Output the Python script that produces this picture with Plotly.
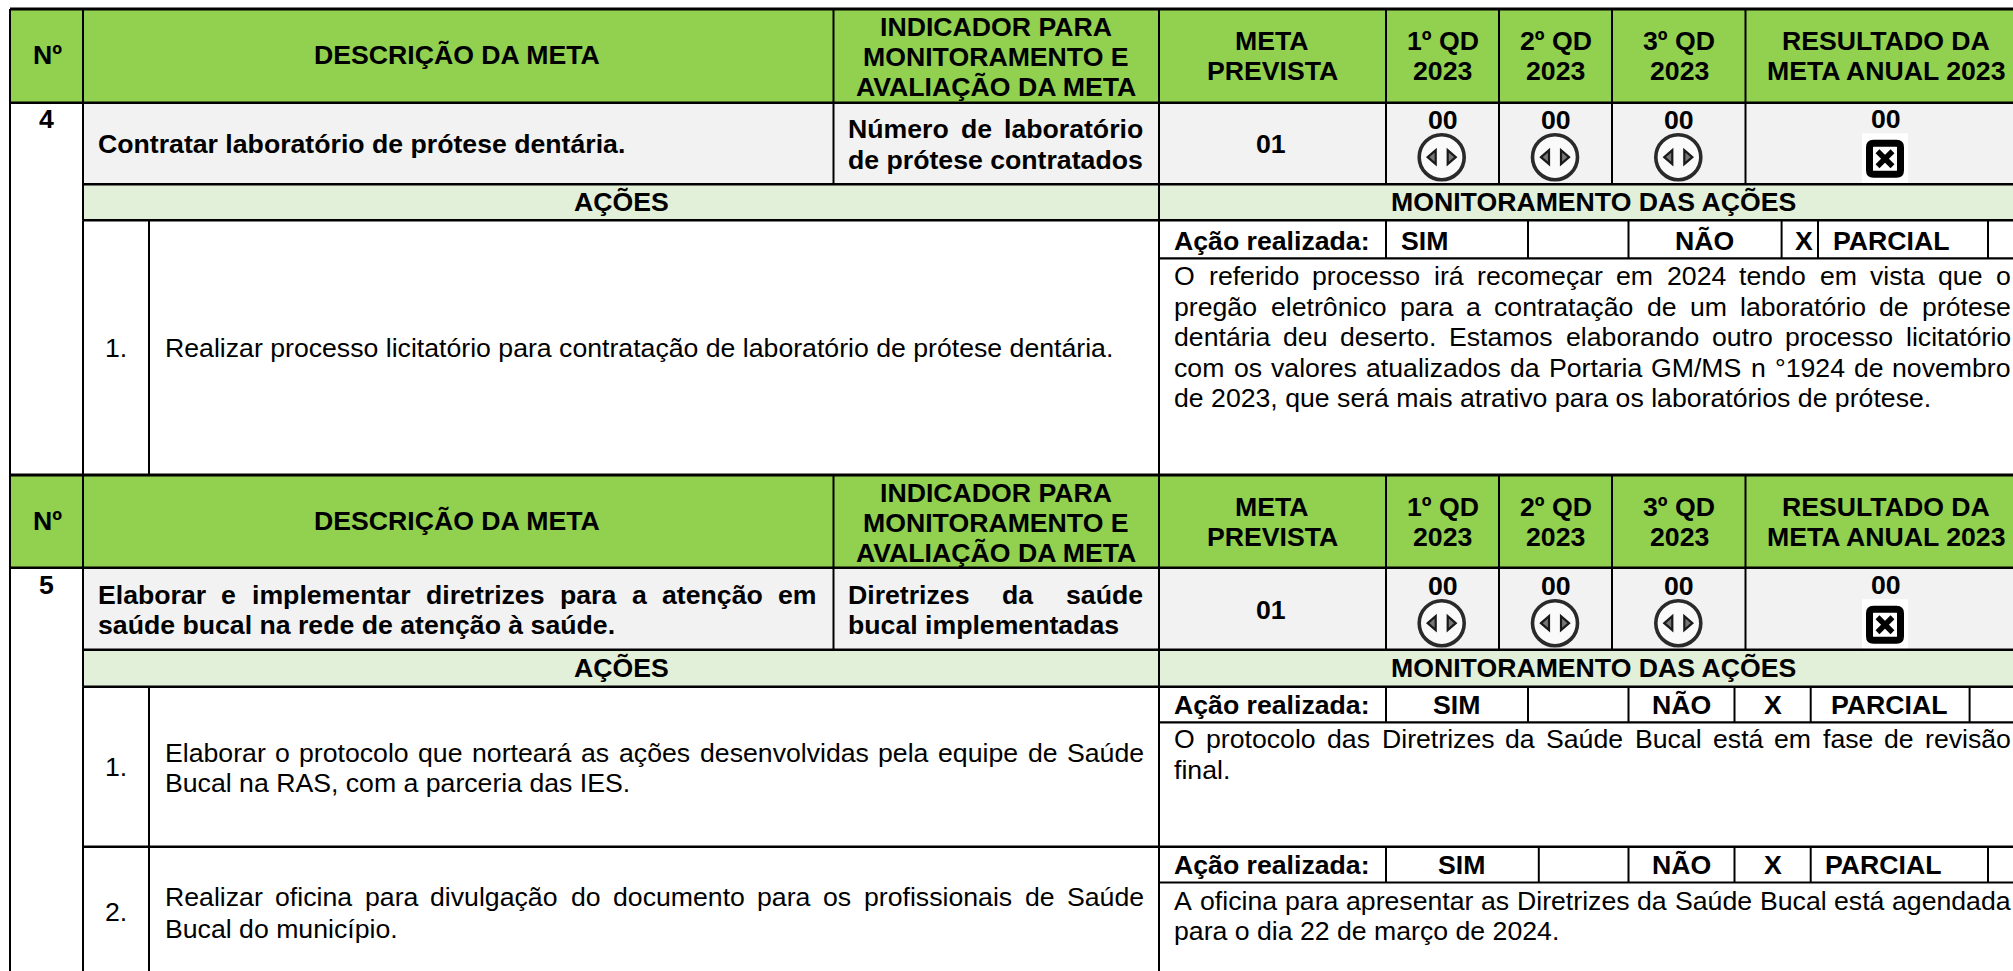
import unicodedata
import plotly.graph_objects as go

# ---------- content ----------
HDR_NO = "Nº"
HDR_DESC = "DESCRIÇÃO DA META"
HDR_IND = ["INDICADOR PARA", "MONITORAMENTO E", "AVALIAÇÃO DA META"]
HDR_META = ["META", "PREVISTA"]
HDR_Q1 = ["1º QD", "2023"]
HDR_Q2 = ["2º QD", "2023"]
HDR_Q3 = ["3º QD", "2023"]
HDR_RES = ["RESULTADO DA", "META ANUAL 2023"]
ACOES = "AÇÕES"
MONIT = "MONITORAMENTO DAS AÇÕES"
ACAO = "Ação realizada:"
SIM, NAO, PARCIAL, MARK = "SIM", "NÃO", "PARCIAL", "X"

META_NUMBERS = ["4", "5"]
META_PREVISTA = ["01", "01"]
QD_VALUES = ["00", "00", "00"]
RESULT_VALUES = ["00", "00"]

DESC_4 = "Contratar laboratório de prótese dentária."
IND_4 = ["Número de laboratório", "de prótese contratados"]
ACT_4 = "Realizar processo licitatório para contratação de laboratório de prótese dentária."
MON_4 = ["O referido processo irá recomeçar em 2024 tendo em vista que o",
         "pregão eletrônico para a contratação de um laboratório de prótese",
         "dentária deu deserto. Estamos elaborando outro processo licitatório",
         "com os valores atualizados da Portaria GM/MS n °1924 de novembro",
         "de 2023, que será mais atrativo para os laboratórios de prótese."]

DESC_5 = ["Elaborar e implementar diretrizes para a atenção em",
          "saúde bucal na rede de atenção à saúde."]
IND_5 = ["Diretrizes da saúde", "bucal implementadas"]
ACT_5A = ["Elaborar o protocolo que norteará as ações desenvolvidas pela equipe de Saúde",
          "Bucal na RAS, com a parceria das IES."]
MON_5A = ["O protocolo das Diretrizes da Saúde Bucal está em fase de revisão", "final."]
ACT_5B = ["Realizar oficina para divulgação do documento para os profissionais de Saúde",
          "Bucal do município."]
MON_5B = ["A oficina para apresentar as Diretrizes da Saúde Bucal está agendada",
          "para o dia 22 de março de 2024."]

# ---------- styling ----------
GREEN, GREY, PALE = "#92D050", "#F2F2F2", "#E2EFD9"
FONT = "Liberation Sans"
BODY, BOLD = 26.67, 26.67

REG_W = dict(zip("ABCDEFGHIJKLMNOPQRSTUVWXYZabcdefghijklmnopqrstuvwxyz",
    [667,667,722,722,667,611,778,722,278,500,667,556,833,722,778,667,778,722,667,611,722,667,944,667,667,611,
     556,556,500,556,556,278,556,556,222,222,500,222,833,556,556,556,556,333,500,278,556,500,722,500,500,500]))
BLD_W = dict(zip("ABCDEFGHIJKLMNOPQRSTUVWXYZabcdefghijklmnopqrstuvwxyz",
    [722,722,722,722,667,611,778,722,278,556,722,611,833,722,778,667,778,722,667,611,722,667,944,667,667,611,
     556,611,556,611,556,333,611,611,278,278,556,278,889,611,611,611,611,389,556,333,611,556,778,556,556,500]))
OTHER_W = {",": 278, ".": 278, ":": 278, "/": 278, "°": 400}


def width(txt, size, bold):
    table = BLD_W if bold else REG_W
    total = 0
    for ch in txt:
        base = unicodedata.normalize("NFD", ch)[0]
        total += table.get(base, OTHER_W.get(base, 556))
    return total * size / 1000


annotations, shapes = [], []


def put(txt, x, y, bold=False, anchor="left", size=None):
    size = size or (BOLD if bold else BODY)
    annotations.append(dict(
        text=f"<b>{txt}</b>" if bold else txt, x=x, y=y, xref="x", yref="y",
        xanchor=anchor, yanchor="middle", showarrow=False, borderpad=0, borderwidth=0,
        font=dict(family=FONT, size=size, color="#000000")))


def justify(txt, x0, x1, y, bold=False):
    size = BOLD if bold else BODY
    words = txt.split(" ")
    gap = (x1 - x0 - sum(width(w, size, bold) for w in words)) / (len(words) - 1)
    x = x0
    for w in words:
        put(w, x, y, bold)
        x += width(w, size, bold) + gap


def fill(x0, y0, x1, y1, color):
    shapes.append(dict(type="rect", xref="x", yref="y", x0=x0, y0=y0, x1=x1, y1=y1,
                       fillcolor=color, line_width=0, layer="below"))


def hline(y, x0=10, x1=2013, w=2.2):
    shapes.append(dict(type="line", xref="x", yref="y", x0=x0, x1=x1, y0=y, y1=y,
                       line=dict(color="#000000", width=w)))


def vline(x, y0, y1, w=2):
    shapes.append(dict(type="line", xref="x", yref="y", x0=x, x1=x, y0=y0, y1=y1,
                       line=dict(color="#000000", width=w)))


def path(d, line=None, lw=0, fc=None):
    s = dict(type="path", xref="x", yref="y", path=d, line=dict(color=line or "rgba(0,0,0,0)", width=lw))
    if fc:
        s["fillcolor"] = fc
    shapes.append(s)


def neutral_icon(cx, cy):
    shapes.append(dict(type="circle", xref="x", yref="y", x0=cx - 22.5, x1=cx + 22.5, y0=cy - 22.5, y1=cy + 22.5,
                       line=dict(color="#2a2a2a", width=3.6), fillcolor="#FAFAFA"))
    path(f"M {cx-14} {cy} L {cx-6} {cy-7} L {cx-6} {cy+7} Z", "#1a1a1a", 2.2, "#777777")
    path(f"M {cx+14} {cy} L {cx+6} {cy-7} L {cx+6} {cy+7} Z", "#1a1a1a", 2.2, "#777777")


def x_icon(cx, cy):
    fill(cx - 23, cy - 25.5, cx + 23, cy + 25.5, "#FFFFFF")
    a, r = 15.5, 4
    d = (f"M {cx-a+r} {cy-a} L {cx+a-r} {cy-a} Q {cx+a} {cy-a} {cx+a} {cy-a+r} L {cx+a} {cy+a-r} "
         f"Q {cx+a} {cy+a} {cx+a-r} {cy+a} L {cx-a+r} {cy+a} Q {cx-a} {cy+a} {cx-a} {cy+a-r} "
         f"L {cx-a} {cy-a+r} Q {cx-a} {cy-a} {cx-a+r} {cy-a} Z")
    path(d, "#000000", 7, "#FFFFFF")
    shapes.append(dict(type="line", xref="x", yref="y", x0=cx-7.5, x1=cx+7.5, y0=cy-7.5, y1=cy+7.5,
                       line=dict(color="#000000", width=5.5)))
    shapes.append(dict(type="line", xref="x", yref="y", x0=cx-7.5, x1=cx+7.5, y0=cy+7.5, y1=cy-7.5,
                       line=dict(color="#000000", width=5.5)))


# ---------- geometry ----------
XL, X1, X2, XD, XM, XP, XQ1, XQ2, XQ3 = 10, 83, 149, 833.5, 1159, 1386, 1499, 1612, 1745.5
XR = 2013
LEFT, RIGHT = 1174.4, 2011
ACT_L, ACT_R = 164.5, 1144
ICON_X = [1441.7, 1555, 1678.3]
Q_X = [1442.5, 1555.6, 1679]


def section(top, h_bot, d_bot, a_bot, dy, number, prev, result):
    """Header, goal row and band, with dy being the text offset."""
    fill(XL, top, XR, h_bot, GREEN)
    fill(X1, h_bot, XR, d_bot, GREY)
    fill(X1, d_bot, XR, a_bot, PALE)
    put(HDR_NO, 47.8, dy + 55, True, "center")
    put(HDR_DESC, 457, dy + 55, True, "center")
    for i, t in enumerate(HDR_IND):
        put(t, 996, dy + 26.7 + 30 * i, True, "center")
    for cx, lines in zip([1272] + Q_X + [1886], [HDR_META, HDR_Q1, HDR_Q2, HDR_Q3, HDR_RES]):
        for i, t in enumerate(lines):
            put(t, cx, dy + 40.7 + 30.5 * i, True, "center")
    put(number, 46, dy + 119, True, "center")
    put(prev, 1271, dy + 144, True, "center")
    for cx, ix, v in zip(Q_X, ICON_X, QD_VALUES):
        put(v, cx, dy + 120, True, "center")
        neutral_icon(ix, dy + 157.2)
    put(result, 1886, dy + 119.3, True, "center")
    x_icon(1885, dy + 158.7)
    put(ACOES, 621, dy + 202.3, True, "center")
    put(MONIT, 1593, dy + 202.3, True, "center")
    hline(top, w=2.8)
    hline(h_bot, w=2.4)
    hline(d_bot, x0=X1, w=2.4)
    hline(a_bot, x0=X1, w=2.4)
    for x in (X1, XD, XP, XQ1, XQ2, XQ3):
        vline(x, top, d_bot)
    vline(XM, top, a_bot)
    vline(X1, top, a_bot)


# section 4
section(9, 102.7, 184.3, 220.3, 0, META_NUMBERS[0], META_PREVISTA[0], RESULT_VALUES[0])
put(DESC_4, 97.6, 144, True)
justify(IND_4[0], 848, 1143, 129.3, True)
put(IND_4[1], 848, 160, True)
vline(X1, 220.3, 474.7); vline(X2, 220.3, 474.7); vline(XM, 220.3, 474.7)
hline(258.3, XM, XR)
for x in (XP, 1528, 1628.5, 1781.6, 1818, 1988):
    vline(x, 220.3, 258.3)
put("1.", 116, 348, anchor="center")
put(ACT_4, ACT_L, 348)
put(ACAO, LEFT, 240.7, True)
put(SIM, 1400.5, 240.7, True)
put(NAO, 1704, 240.7, True, "center")
put(MARK, 1804, 240.7, True, "center")
put(PARCIAL, 1833, 240.7, True)
for i, t in enumerate(MON_4):
    y = 276 + 30.5 * i
    if i < 4:
        justify(t, LEFT, RIGHT, y)
    else:
        put(t, LEFT, y)

# section 5
section(475, 567.7, 649.7, 686.7, 466, META_NUMBERS[1], META_PREVISTA[1], RESULT_VALUES[1])
justify(DESC_5[0], 97.6, 817, 595.3, True)
put(DESC_5[1], 97.6, 625.3, True)
justify(IND_5[0], 848, 1143, 595.3, True)
put(IND_5[1], 848, 625.3, True)
vline(X1, 686.7, 971); vline(X2, 686.7, 971); vline(XM, 686.7, 971)
hline(846.7, X1, XR, w=2.4)
hline(722.3, XM, XR)
hline(882.5, XM, XR)
for x in (XP, 1528, 1628.5, 1734.5, 1810.7, 1969.6):
    vline(x, 686.7, 722.3)
for x in (XP, 1538.8, 1628.5, 1734.5, 1810.7, 1988):
    vline(x, 846.7, 882.5)
put("1.", 116, 766.7, anchor="center")
justify(ACT_5A[0], ACT_L, ACT_R, 752.7)
put(ACT_5A[1], ACT_L, 783.3)
put("2.", 116, 912.3, anchor="center")
justify(ACT_5B[0], ACT_L, ACT_R, 897.3)
put(ACT_5B[1], ACT_L, 928.7)
for y, sim_x, parc_x in ((705, 1456, 1889.5), (865, 1461, 1883.7)):
    put(ACAO, LEFT, y, True)
    put(SIM, sim_x, y, True, "center")
    put(NAO, 1681.5, y, True, "center")
    put(MARK, 1772.6, y, True, "center")
    put(PARCIAL, parc_x, y, True, "center")
justify(MON_5A[0], LEFT, RIGHT, 739.3)
put(MON_5A[1], LEFT, 770)
justify(MON_5B[0], LEFT, RIGHT, 900.7)
put(MON_5B[1], LEFT, 930.7)
vline(XL, 9, 971)

axis = dict(visible=False, showgrid=False, zeroline=False, fixedrange=True)
fig = go.Figure()
fig.update_layout(
    width=2013, height=971, margin=dict(l=0, r=0, t=0, b=0, pad=0),
    paper_bgcolor="#FFFFFF", plot_bgcolor="#FFFFFF", showlegend=False,
    xaxis=dict(range=[0, 2013], **axis),
    yaxis=dict(range=[971, 0], **axis),
    shapes=shapes, annotations=annotations,
)
fig.write_html("out.html", config=dict(displayModeBar=False),
               post_script="document.body.style.margin='0';document.body.style.overflow='hidden';")
